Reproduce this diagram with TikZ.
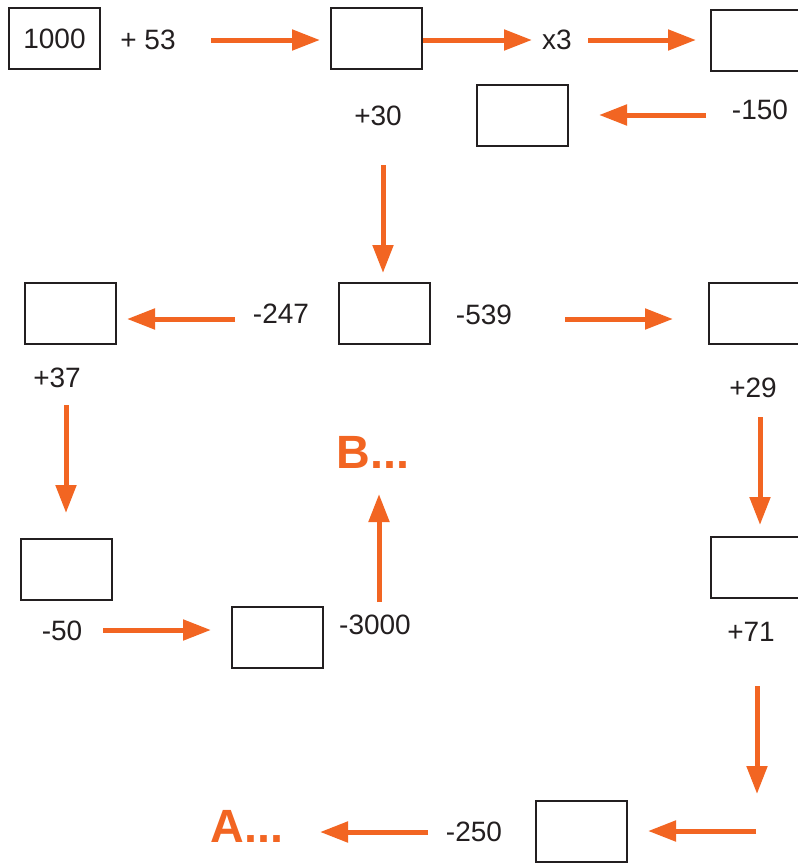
\documentclass[tikz,border=0pt]{standalone}
\usepackage{fontspec}
\setmainfont{Liberation Sans}
\usetikzlibrary{arrows.meta}
\definecolor{arr}{RGB}{242,101,34}
\definecolor{ink}{RGB}{35,31,32}
\begin{document}
\begin{tikzpicture}[x=0.75pt,y=-0.75pt,
  numbox/.style={draw=ink,line width=1.5pt,minimum width=68.25pt,minimum height=45.75pt,inner sep=0pt,outer sep=0pt,text=ink,font=\fontsize{21}{25}\selectfont},
  lbl/.style={inner sep=0pt,text=ink,font=\fontsize{21}{25}\selectfont},
  big/.style={inner sep=0pt,text=arr,font=\fontsize{35}{40}\selectfont\bfseries},
  flow/.style={draw=arr,line width=3.75pt,-{Triangle[length=21pt,width=15pt]}}]
\clip (0,0) rectangle (798,864);
\fill[white] (0,0) rectangle (798,864);
% boxes
\node[numbox] (b1) at (54.5,38.5) {1000};
\node[numbox] (b2) at (376,38.5) {};
\node[numbox] (b3) at (756.5,40) {};
\node[numbox] (b4) at (522,115) {};
\node[numbox] (b5) at (384,313.5) {};
\node[numbox] (b6) at (70,313.5) {};
\node[numbox] (b7) at (754.5,313.5) {};
\node[numbox] (b8) at (66,569.5) {};
\node[numbox] (b9) at (277,637.5) {};
\node[numbox] (b10) at (756.5,567.5) {};
\node[numbox] (b11) at (581,831.5) {};
% labels
\node[lbl] (l53) at (148,40) {+ 53};
\node[lbl] (lx3) at (557,40) {x3};
\node[lbl] (l30) at (378,116) {+30};
\node[lbl] (l150) at (760,110) {-150};
\node[lbl] (l247) at (281,314) {-247};
\node[lbl] (l539) at (484,315) {-539};
\node[lbl] (l37) at (57,378) {+37};
\node[lbl] (l29) at (753,388) {+29};
\node[lbl] (l50) at (62,631) {-50};
\node[lbl] (l3000) at (375,625) {-3000};
\node[lbl] (l71) at (751,632) {+71};
\node[lbl] (l250) at (474,832) {-250};
\node[big] (B) at (373,452) {B...};
\node[big] (A) at (247,826) {A...};
% arrow end points
\coordinate (a1s) at (211,40); \coordinate (a1e) at (320,40);
\coordinate (a2s) at (423,40); \coordinate (a2e) at (532,40);
\coordinate (a3s) at (588,40); \coordinate (a3e) at (696,40);
\coordinate (a4s) at (706,115); \coordinate (a4e) at (599,115);
\coordinate (a5s) at (383,165); \coordinate (a5e) at (383,273);
\coordinate (a6s) at (235,319); \coordinate (a6e) at (127,319);
\coordinate (a7s) at (565,319); \coordinate (a7e) at (673,319);
\coordinate (a8s) at (66,405); \coordinate (a8e) at (66,513);
\coordinate (a9s) at (760,417); \coordinate (a9e) at (760,525);
\coordinate (a10s) at (103,630); \coordinate (a10e) at (211,630);
\coordinate (a11s) at (379,602); \coordinate (a11e) at (379,494);
\coordinate (a12s) at (757,686); \coordinate (a12e) at (757,794);
\coordinate (a13s) at (756,831); \coordinate (a13e) at (648,831);
\coordinate (a14s) at (428,832); \coordinate (a14e) at (320,832);
\foreach \i in {1,...,14} {\draw[flow] (a\i s) -- (a\i e);}
\end{tikzpicture}
\end{document}
